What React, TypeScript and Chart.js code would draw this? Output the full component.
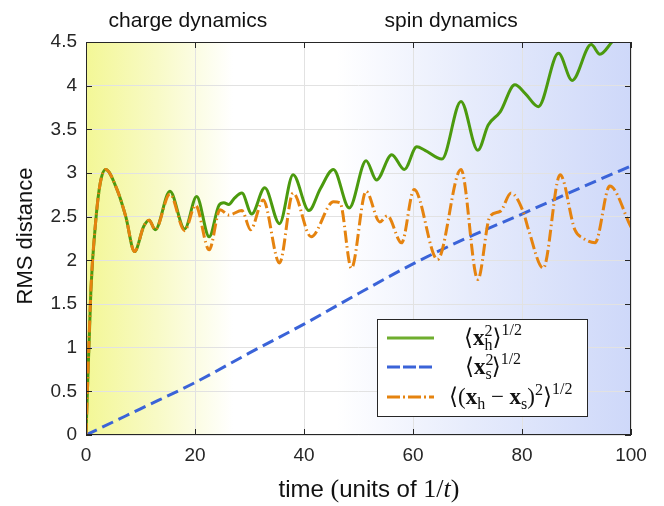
import React, { useEffect, useRef } from "react";
import { Chart, registerables } from "chart.js";

Chart.register(...registerables);

// ---- data ----
const timeH = [0, 0.9, 1.8, 2.6, 3.6, 5.7, 7.3, 8.9, 10.6, 11.6, 12.7, 15.4, 18.1, 20.3, 22.6, 24.4, 25.3, 26.2, 27.2, 28.6, 30.4, 32.8, 35.5, 38.0, 40.9, 43.0, 45.4, 48.3, 51.4, 53.3, 56.1, 58.4, 60.7, 62.2, 65.3, 68.8, 71.9, 73.8, 76.0, 78.7, 80.6, 83.0, 86.7, 89.2, 92.7, 94.3, 96.5, 100];
const rmsH = [0, 1.66, 2.46, 2.88, 3.04, 2.81, 2.5, 2.1, 2.39, 2.46, 2.35, 2.79, 2.36, 2.73, 2.27, 2.63, 2.66, 2.64, 2.71, 2.77, 2.53, 2.83, 2.42, 2.98, 2.57, 2.82, 3.04, 2.6, 3.14, 2.92, 3.21, 3.04, 3.3, 3.26, 3.16, 3.82, 3.26, 3.55, 3.7, 4.01, 3.91, 3.76, 4.37, 4.06, 4.47, 4.36, 4.5, 4.75];

const timeS = [0, 10, 20, 30, 40, 50, 60, 70, 80, 90, 100];
const rmsS = [0, 0.3, 0.6, 0.94, 1.27, 1.62, 1.96, 2.26, 2.53, 2.81, 3.08];

const timeD = [0, 0.9, 1.8, 2.6, 3.6, 5.7, 7.3, 8.9, 10.6, 11.6, 12.7, 15.4, 18.1, 20.1, 22.6, 24.6, 26.2, 28.6, 30.2, 32.5, 35.5, 38.0, 41.3, 45.4, 46.6, 48.7, 51.4, 53.9, 55.3, 57.9, 60.2, 64.5, 68.8, 71.9, 74.1, 76.0, 78.0, 80.2, 81.2, 83.9, 87.0, 89.7, 91.3, 93.4, 96.1, 100];
const rmsD = [0, 1.66, 2.46, 2.88, 3.04, 2.81, 2.5, 2.1, 2.39, 2.46, 2.35, 2.76, 2.34, 2.63, 2.12, 2.58, 2.52, 2.57, 2.35, 2.69, 1.97, 2.77, 2.27, 2.67, 2.66, 1.91, 2.79, 2.44, 2.51, 2.2, 2.81, 2.01, 3.04, 1.78, 2.5, 2.56, 2.77, 2.56, 2.35, 1.91, 2.98, 2.35, 2.25, 2.2, 2.85, 2.38];

const xTicks = [0, 20, 40, 60, 80, 100];
const yTicks = [0, 0.5, 1, 1.5, 2, 2.5, 3, 3.5, 4, 4.5];
const regionLabels = ["charge dynamics", "spin dynamics"];
const regionCenters = [18.7, 67]; // in time units (label centres)

const GREEN = "#4b9a0e";
const BLUE = "#3a63d8";
const ORANGE = "#e5830f";
const AXIS = "#262626";
const SANS = '"Liberation Sans", Arial, sans-serif';
const SERIF = '"Liberation Serif", "DejaVu Serif", serif';

type Piece = { t: string; size: number; dy?: number; bold?: boolean; italic?: boolean; adv?: boolean; font?: string };

function drawPieces(ctx: CanvasRenderingContext2D, x: number, y: number, pieces: Piece[]) {
  for (const p of pieces) {
    ctx.font = `${p.italic ? "italic " : ""}${p.bold ? "bold " : ""}${p.size}px ${p.font || SERIF}`;
    ctx.fillText(p.t, x, y + (p.dy || 0));
    if (p.adv !== false) x += ctx.measureText(p.t).width;
  }
}
function measurePieces(ctx: CanvasRenderingContext2D, pieces: Piece[]) {
  let w = 0;
  for (const p of pieces) {
    ctx.font = `${p.italic ? "italic " : ""}${p.bold ? "bold " : ""}${p.size}px ${p.font || SERIF}`;
    if (p.adv !== false) w += ctx.measureText(p.t).width;
  }
  return w;
}

const bgPlugin = {
  id: "bg",
  beforeDraw(chart: any) {
    const { ctx, chartArea } = chart;
    const { left, right, top, bottom } = chartArea;
    ctx.save();
    ctx.fillStyle = "#ffffff";
    ctx.fillRect(0, 0, chart.width, chart.height);
    const g = ctx.createLinearGradient(left, 0, right, 0);
    g.addColorStop(0, "rgb(243,247,150)");
    g.addColorStop(0.13, "rgb(248,250,198)");
    g.addColorStop(0.27, "rgb(255,255,255)");
    g.addColorStop(0.46, "rgb(255,255,255)");
    g.addColorStop(0.7, "rgb(231,236,252)");
    g.addColorStop(1, "rgb(206,216,249)");
    ctx.fillStyle = g;
    ctx.fillRect(left, top, right - left, bottom - top);
    ctx.restore();
  },
};

const decoPlugin = {
  id: "deco",
  afterDraw(chart: any) {
    const { ctx, chartArea, scales } = chart;
    const { left, right, top, bottom } = chartArea;
    const xs = scales.x, ys = scales.y;
    ctx.save();
    // box
    ctx.strokeStyle = AXIS;
    ctx.lineWidth = 1;
    ctx.strokeRect(Math.round(left) + 0.5, Math.round(top) + 0.5, Math.round(right - left) - 1, Math.round(bottom - top) - 1);
    // inward ticks
    ctx.beginPath();
    for (const v of yTicks) {
      const y = Math.round(ys.getPixelForValue(v)) + 0.5;
      ctx.moveTo(left, y); ctx.lineTo(left + 6, y);
      ctx.moveTo(right, y); ctx.lineTo(right - 6, y);
    }
    for (const v of xTicks) {
      const x = Math.round(xs.getPixelForValue(v)) + 0.5;
      ctx.moveTo(x, bottom); ctx.lineTo(x, bottom - 6);
      ctx.moveTo(x, top); ctx.lineTo(x, top + 6);
    }
    ctx.stroke();

    // region labels
    ctx.fillStyle = "#111";
    ctx.font = `21px ${SANS}`;
    ctx.textAlign = "center";
    ctx.textBaseline = "alphabetic";
    regionLabels.forEach((lab, i) => {
      ctx.fillText(lab, xs.getPixelForValue(regionCenters[i]), 27);
    });

    // y title
    ctx.save();
    ctx.translate(32, 236);
    ctx.rotate(-Math.PI / 2);
    ctx.font = `22px ${SANS}`;
    ctx.fillText("RMS distance", 0, 0);
    ctx.restore();

    // x title
    ctx.textAlign = "left";
    const xt: Piece[] = [
      { t: "time ", size: 24, font: SANS },
      { t: "(", size: 26 },
      { t: "units of ", size: 24, font: SANS },
      { t: "1/", size: 26 },
      { t: "t", size: 26, italic: true },
      { t: ")", size: 26 },
    ];
    const w = measurePieces(ctx, xt);
    drawPieces(ctx, 369 - w / 2, 497, xt);

    // legend
    const lx = 377.5, ly = 319.5, lw = 210, lh = 97;
    ctx.fillStyle = "#fff";
    ctx.fillRect(lx, ly, lw, lh);
    ctx.strokeStyle = AXIS;
    ctx.lineWidth = 1;
    ctx.strokeRect(lx, ly, lw, lh);
    const M = 23, S = 16;
    const rows = [
      { y: 338, color: "#6fae2e", dash: [] as number[], tx: 464, pieces: [
        { t: "⟨", size: M }, { t: "x", size: M, bold: true }, { t: "2", size: S, dy: -9, adv: false }, { t: "h", size: S, dy: 5 }, { t: "⟩", size: M }, { t: "1/2", size: S, dy: -10 },
      ] as Piece[] },
      { y: 367, color: BLUE, dash: [13, 3], tx: 465, pieces: [
        { t: "⟨", size: M }, { t: "x", size: M, bold: true }, { t: "2", size: S, dy: -9, adv: false }, { t: "s", size: S, dy: 5 }, { t: "⟩", size: M }, { t: "1/2", size: S, dy: -10 },
      ] as Piece[] },
      { y: 397, color: ORANGE, dash: [13, 3, 2, 3], tx: 449, pieces: [
        { t: "⟨(", size: M }, { t: "x", size: M, bold: true }, { t: "h", size: S, dy: 5 }, { t: " − ", size: M }, { t: "x", size: M, bold: true }, { t: "s", size: S, dy: 5 }, { t: ")", size: M }, { t: "2", size: S, dy: -9 }, { t: "⟩", size: M }, { t: "1/2", size: S, dy: -10 },
      ] as Piece[] },
    ];
    for (const r of rows) {
      ctx.strokeStyle = r.color;
      ctx.lineWidth = 3;
      ctx.setLineDash(r.dash);
      ctx.beginPath();
      ctx.moveTo(387, r.y);
      ctx.lineTo(434, r.y);
      ctx.stroke();
      ctx.setLineDash([]);
      ctx.fillStyle = "#111";
      drawPieces(ctx, r.tx, r.y + 7, r.pieces);
    }
    ctx.restore();
  },
};

export default function App() {
  const ref = useRef<HTMLCanvasElement>(null);
  useEffect(() => {
    if (!ref.current) return;
    const mk = (xs: number[], ys: number[]) => xs.map((x, i) => ({ x, y: ys[i] }));
    const chart = new Chart(ref.current, {
      type: "line",
      data: {
        datasets: [
          { label: "xh", data: mk(timeH, rmsH), borderColor: GREEN, borderWidth: 3, pointRadius: 0, cubicInterpolationMode: "monotone", order: 2 },
          { label: "xs", data: mk(timeS, rmsS), borderColor: BLUE, borderWidth: 3, borderDash: [12, 6], pointRadius: 0, cubicInterpolationMode: "monotone", order: 1 },
          { label: "diff", data: mk(timeD, rmsD), borderColor: ORANGE, borderWidth: 3, borderDash: [12, 3.5, 1.5, 3.5], pointRadius: 0, cubicInterpolationMode: "monotone", order: 0 },
        ],
      } as any,
      options: {
        animation: false,
        responsive: false,
        layout: { padding: { top: 42, right: 33, left: 0, bottom: 0 } },
        plugins: { legend: { display: false }, tooltip: { enabled: false } },
        scales: {
          x: {
            type: "linear", min: 0, max: 100,
            afterBuildTicks: (s: any) => { s.ticks = xTicks.map((v) => ({ value: v })); },
            afterFit: (s: any) => { s.height = 71; },
            grid: { color: "#e2e2e2", drawTicks: false },
            border: { display: false },
            ticks: { padding: 9, color: AXIS, font: { family: SANS, size: 19 }, maxRotation: 0, callback: (v: any) => String(v) },
          },
          y: {
            type: "linear", min: 0, max: 4.5,
            afterBuildTicks: (s: any) => { s.ticks = yTicks.map((v) => ({ value: v })); },
            afterFit: (s: any) => { s.width = 86; },
            grid: { color: "#e2e2e2", drawTicks: false },
            border: { display: false },
            ticks: { padding: 9, color: AXIS, font: { family: SANS, size: 19 }, callback: (v: any) => String(v) },
          },
        },
      } as any,
      plugins: [bgPlugin, decoPlugin],
    });
    return () => chart.destroy();
  }, []);
  return (
    <div style={{ position: "absolute", left: 0, top: 0, width: 664, height: 506 }}>
      <canvas ref={ref} width={664} height={506} style={{ width: 664, height: 506 }} />
    </div>
  );
}
